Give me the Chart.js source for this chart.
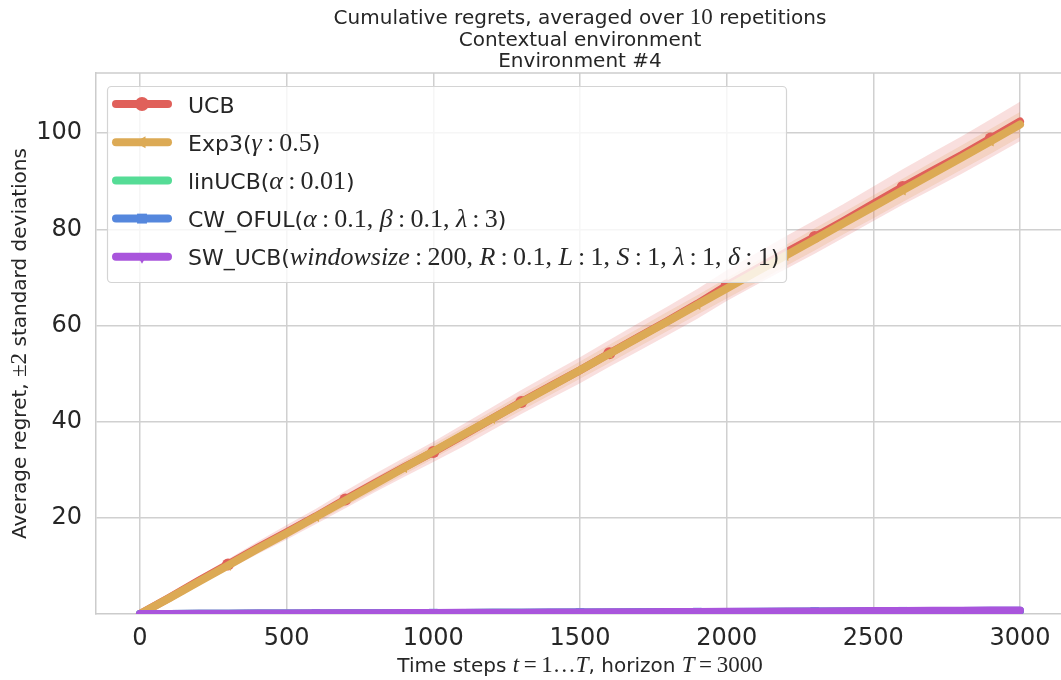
<!DOCTYPE html>
<html>
<head>
<meta charset="utf-8">
<script src="https://cdn.jsdelivr.net/npm/chart.js@4.4.1/dist/chart.umd.min.js"></script>
<style>
html,body{margin:0;padding:0;background:#fff;overflow:hidden;}
#wrap{width:1080px;height:680px;}
</style>
</head>
<body>
<div id="wrap"><canvas id="c" width="1080" height="680"></canvas></div>
<script>
// ---------- DATA ----------
const timeSteps = [0,100,200,300,400,500,600,700,800,900,1000,1100,1200,1300,1400,1500,1600,1700,1800,1900,2000,2100,2200,2300,2400,2500,2600,2700,2800,2900,3000];
const ucbMean   = [0,3.4,6.9,10.3,13.7,17.0,20.3,23.8,27.2,30.5,33.7,37.1,40.6,44.1,47.4,50.7,54.2,57.6,61.0,64.5,68.3,71.7,75.1,78.4,81.8,85.3,88.8,92.1,95.4,98.9,102.4];
const ucbBand   = [0,0.6,0.9,1.1,1.3,1.5,1.6,1.8,1.9,2.0,2.1,2.3,2.4,2.5,2.6,2.7,2.8,2.9,3.0,3.1,3.2,3.3,3.4,3.5,3.5,3.6,3.7,3.8,3.9,4.0,4.1];
const exp3Mean  = [0,3.3,6.7,10.1,13.5,16.8,20.2,23.6,27.0,30.4,33.8,37.2,40.6,44.0,47.3,50.7,54.1,57.5,60.9,64.3,67.7,71.1,74.5,77.9,81.3,84.7,88.1,91.5,94.9,98.3,101.8];
const exp3Band  = [0,0.4,0.6,0.8,0.9,1.0,1.1,1.2,1.3,1.4,1.5,1.5,1.6,1.7,1.7,1.8,1.9,1.9,2.0,2.0,2.1,2.2,2.2,2.3,2.3,2.4,2.4,2.5,2.5,2.6,2.6];
const linUcbMean= [0,0.02,0.04,0.06,0.08,0.1,0.12,0.14,0.16,0.18,0.2,0.22,0.24,0.26,0.28,0.3,0.32,0.34,0.36,0.38,0.41,0.43,0.45,0.47,0.5,0.52,0.54,0.56,0.58,0.61,0.63];
const cwOfulMean= [0,0.02,0.04,0.06,0.08,0.1,0.12,0.14,0.16,0.18,0.2,0.23,0.25,0.27,0.29,0.31,0.33,0.36,0.38,0.41,0.43,0.46,0.48,0.51,0.54,0.56,0.59,0.62,0.64,0.67,0.7];
const swUcbMean = [0,0.02,0.05,0.07,0.09,0.11,0.13,0.15,0.17,0.19,0.21,0.24,0.26,0.28,0.3,0.33,0.35,0.38,0.4,0.43,0.46,0.48,0.51,0.54,0.57,0.6,0.62,0.65,0.68,0.71,0.74];
const swUcbBand = [0,0.05,0.08,0.1,0.12,0.14,0.16,0.18,0.2,0.21,0.23,0.24,0.26,0.27,0.29,0.3,0.32,0.33,0.35,0.36,0.38,0.39,0.41,0.42,0.44,0.45,0.47,0.48,0.5,0.51,0.53];
const seriesLabels = [
  "UCB",
  "Exp3($γ:0.5$)",
  "linUCB($α:0.01$)",
  "CW_OFUL($α:0.1, β:0.1, λ:3$)",
  "SW_UCB($windowsize:200, R:0.1, L:1, S:1, λ:1, δ:1$)"
];
const xTickValues = [0,500,1000,1500,2000,2500,3000];
const yTickValues = [20,40,60,80,100];
const titleLines = ["Cumulative regrets, averaged over $10$ repetitions","Contextual environment","Environment #4"];
const xAxisTitle = "Time steps $t=1…T$, horizon $T=3000$";
const yAxisTitle = "Average regret, $±2$ standard deviations";

// ---------- STYLE ----------
const colors = ['#e0605a','#dcaa55','#55dc96','#5587dd','#a955dc'];
const pointStyles = ['circle','triangle','star','rect','triangle'];
const pointRots = [0,-90,0,0,180];
const markerIdx = [
  [3,7,10,13,16,20,23,26,29],
  [3,6,9,12,16,19,22,26,29],
  [4,8,12,15,19,22,25,28],
  [6,10,15,19,23,26],
  [5,9,14,18,24,28]
];
const SANS = "'DejaVu Sans'";
const SERIF = "'Liberation Serif'";
const TEXT = '#262626';

function pt(x,y){return {x,y};}
function toXY(arr){return arr.map((v,i)=>pt(timeSteps[i],v));}
function upper(m,b){return m.map((v,i)=>pt(timeSteps[i],v+b[i]));}
function lower(m,b){return m.map((v,i)=>pt(timeSteps[i],v-b[i]));}
function hexA(h,a){const r=parseInt(h.slice(1,3),16),g=parseInt(h.slice(3,5),16),b=parseInt(h.slice(5,7),16);return `rgba(${r},${g},${b},${a})`;}

const means = [ucbMean,exp3Mean,linUcbMean,cwOfulMean,swUcbMean];
const drawOrder = [4,3,2,1,0]; // lower order = drawn on top
const datasets = [];
means.forEach((m,i)=>{
  datasets.push({
    label: seriesLabels[i],
    data: toXY(m),
    borderColor: colors[i],
    backgroundColor: colors[i],
    borderWidth: 8,
    borderCapStyle:'round',
    borderJoinStyle:'round',
    pointStyle: pointStyles[i],
    rotation: pointRots[i],
    pointRadius: (ctx)=> markerIdx[i].includes(ctx.dataIndex) ? 6 : 0,
    pointBorderWidth: 0,
    pointHoverRadius: 0,
    fill:false,
    tension:0,
    order: drawOrder[i]
  });
});
const bands = [[ucbMean,ucbBand,0],[exp3Mean,exp3Band,1],[swUcbMean,swUcbBand,4]];
bands.forEach(([m,b,ci])=>{
  datasets.push({label:'_u'+ci,data:upper(m,b),borderWidth:0,pointRadius:0,fill:false,order:10+ci,borderColor:'transparent'});
  datasets.push({label:'_l'+ci,data:lower(m,b),borderWidth:0,pointRadius:0,fill:'-1',order:10+ci,borderColor:'transparent',backgroundColor:hexA(colors[ci],0.2)});
});

// ---------- mixed text (sans + math) ----------
function segs(str){
  const out=[]; const parts=str.split('$');
  parts.forEach((p,i)=>{
    if(i%2===0){ if(p) out.push({t:p,k:'s'}); return; }
    for(const ch of p){
      const k=/[A-Za-zα-ωΑ-Ω]/.test(ch)?'i':'r';
      let t=ch;
      if(ch===':'||ch==='=') t='\u2009'+ch+'\u2009';
      const last=out[out.length-1];
      if(last&&last.k===k&&last.m) last.t+=t; else out.push({t,k,m:true});
    }
  });
  return out;
}
function fontFor(k,size){
  if(k==='s') return `${size}px ${SANS}`;
  if(k==='i') return `italic ${Math.round(size*1.16)}px ${SERIF}`;
  return `${Math.round(size*1.16)}px ${SERIF}`;
}
function drawMixed(ctx,str,x,y,size,align,color){
  const s=segs(str);
  ctx.save(); ctx.fillStyle=color; ctx.textBaseline='alphabetic'; ctx.textAlign='left';
  let w=0; s.forEach(g=>{ctx.font=fontFor(g.k,size); g.w=ctx.measureText(g.t).width; w+=g.w;});
  let cx = align==='center'? x-w/2 : x;
  s.forEach(g=>{ctx.font=fontFor(g.k,size); ctx.fillText(g.t,cx,y); cx+=g.w;});
  ctx.restore();
}

const decor = {
  id:'decor',
  beforeDatasetsDraw(chart){
    const {ctx,chartArea:a}=chart;
    ctx.save(); ctx.strokeStyle='#cccccc'; ctx.lineWidth=1.5;
    ctx.beginPath(); ctx.moveTo(a.left,a.top); ctx.lineTo(a.right,a.top); ctx.stroke();
    ctx.restore();
  },
  afterDraw(chart){
    const {ctx,chartArea:a}=chart;
    const cx=(a.left+a.right)/2;
    const tb=[23.5,45.5,67];
    titleLines.forEach((t,i)=>drawMixed(ctx,t,cx,tb[i],20,'center',TEXT));
    drawMixed(ctx,xAxisTitle,cx,672,20,'center',TEXT);
    ctx.save(); ctx.translate(26,(a.top+a.bottom)/2); ctx.rotate(-Math.PI/2);
    drawMixed(ctx,yAxisTitle,0,0,20,'center',TEXT); ctx.restore();
    // legend
    const bx=107,by=86,bw=679,bh=196;
    ctx.save();
    ctx.fillStyle='rgba(255,255,255,0.8)'; ctx.strokeStyle='#d4d4d4'; ctx.lineWidth=1.2;
    ctx.beginPath(); ctx.roundRect(bx+0.5,by+0.5,bw,bh,4); ctx.fill(); ctx.stroke();
    seriesLabels.forEach((lab,i)=>{
      const y=104+i*38.2;
      ctx.strokeStyle=colors[i]; ctx.lineWidth=8; ctx.lineCap='round';
      ctx.beginPath(); ctx.moveTo(116,y); ctx.lineTo(168,y); ctx.stroke();
      ctx.fillStyle=colors[i];
      Chart.helpers.drawPoint(ctx,{pointStyle:pointStyles[i],rotation:pointRots[i],radius:7,borderWidth:0},142,y);
      drawMixed(ctx,lab,188,y+8.5,22,'left',TEXT);
    });
    ctx.restore();
  }
};

new Chart(document.getElementById('c'),{
  type:'line',
  data:{datasets},
  options:{
    responsive:false, animation:false,
    layout:{padding:{top:73,right:16,left:0,bottom:0}},
    plugins:{legend:{display:false},title:{display:false},tooltip:{enabled:false}},
    elements:{point:{hoverRadius:0}},
    scales:{
      x:{type:'linear',min:-150,max:3150,
        afterBuildTicks:(s)=>{s.ticks=xTickValues.map(v=>({value:v}));},
        afterFit:(s)=>{s.height=66;},
        grid:{color:'#d0d0d0',lineWidth:1.5,drawTicks:false},
        border:{color:'#cccccc',width:1.5},
        ticks:{color:TEXT,font:{family:'DejaVu Sans',size:24},padding:10,maxRotation:0,callback:(v)=>String(v)}
      },
      y:{type:'linear',min:0,max:112.5,
        afterBuildTicks:(s)=>{s.ticks=yTickValues.map(v=>({value:v}));},
        afterFit:(s)=>{s.width=96;},
        grid:{color:'#d0d0d0',lineWidth:1.5,drawTicks:false},
        border:{color:'#cccccc',width:1.5},
        ticks:{color:TEXT,font:{family:'DejaVu Sans',size:24},padding:14,callback:(v)=>String(v)}
      }
    }
  },
  plugins:[decor]
});
</script>
</body>
</html>
